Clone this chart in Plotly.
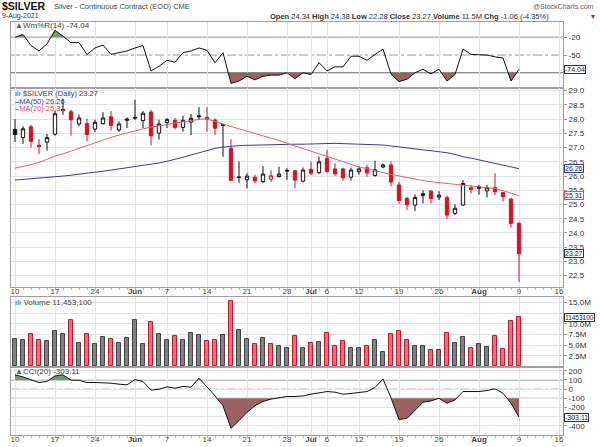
import pandas as pd
import plotly.graph_objects as go
from plotly.subplots import make_subplots

# trading calendar (CME sessions, holidays removed)
HOLIDAYS = ["2021-05-31", "2021-07-05"]
sessions = [d.strftime("%Y-%m-%d") for d in pd.bdate_range("2021-05-10", "2021-08-20")
            if d.strftime("%Y-%m-%d") not in HOLIDAYS]
pos = {d: k for k, d in enumerate(sessions)}

open_ = [27.64, 27.35, 27.73, 27.08, 27.19, 27.47, 28.30, 28.26, 27.83, 27.84,
         27.65, 27.84, 28.08, 27.62, 27.96, 28.03, 27.95, 28.25, 27.51, 27.88,
         27.96, 27.71, 27.90, 28.08, 28.06, 27.97, 27.80, 26.97, 25.97, 25.87,
         25.96, 25.81, 25.89, 25.98, 26.20, 26.19, 25.82, 26.24, 26.12, 26.62,
         26.25, 26.25, 25.96, 26.15, 26.29, 26.02, 26.32, 26.39, 25.69, 25.21,
         24.98, 25.32, 25.47, 25.26, 25.24, 24.69, 24.98, 25.59, 25.62, 25.48,
         25.59, 25.42, 25.19, 24.34]
high = [28.00, 27.75, 27.80, 27.30, 27.48, 28.30, 28.72, 28.33, 28.16, 28.02,
        27.98, 28.24, 28.28, 27.92, 28.06, 28.68, 28.28, 28.33, 27.98, 28.04,
        28.04, 28.12, 28.18, 28.42, 28.42, 28.03, 27.83, 27.29, 26.51, 26.10,
        26.05, 26.35, 26.20, 26.33, 26.27, 26.21, 26.30, 26.51, 26.68, 26.92,
        26.45, 26.30, 26.30, 26.34, 26.40, 26.54, 26.44, 26.52, 25.80, 25.28,
        25.36, 25.50, 25.51, 25.47, 25.31, 25.01, 25.86, 25.69, 25.69, 25.69,
        26.10, 25.45, 25.24, 24.38]
low = [27.20, 27.13, 27.00, 26.77, 26.89, 27.42, 28.15, 27.42, 27.75, 27.22,
       27.54, 27.81, 27.60, 27.54, 27.69, 27.98, 27.69, 27.08, 27.28, 27.69,
       27.64, 27.56, 27.44, 27.98, 27.56, 27.44, 26.68, 25.84, 25.75, 25.57,
       25.75, 25.75, 25.80, 25.95, 25.86, 25.57, 25.78, 26.04, 26.07, 26.10,
       26.00, 25.84, 25.85, 26.05, 25.98, 25.98, 26.28, 25.64, 25.02, 24.81,
       24.77, 25.04, 25.04, 25.16, 24.49, 24.63, 24.96, 25.39, 25.34, 25.25,
       25.33, 25.10, 24.19, 22.28]
close = [27.46, 27.66, 27.22, 27.04, 27.35, 28.19, 28.34, 27.98, 28.04, 27.46,
         27.89, 28.04, 27.78, 27.83, 28.00, 28.06, 28.21, 27.42, 27.83, 27.98,
         27.71, 27.96, 28.03, 28.11, 28.00, 27.68, 27.78, 25.85, 25.95, 26.00,
         25.83, 26.07, 26.01, 26.07, 26.18, 25.86, 26.21, 26.10, 26.50, 26.16,
         26.08, 25.94, 26.21, 26.25, 26.11, 26.22, 26.39, 25.79, 25.14, 24.99,
         25.25, 25.38, 25.21, 25.33, 24.63, 24.87, 25.74, 25.53, 25.57, 25.59,
         25.45, 25.28, 24.33, 23.27]
volume = [6500000, 6100000, 7700000, 6300000, 5900000, 8300000, 7500000, 10800000,
          5600000, 7700000, 5200000, 6800000, 6500000, 5600000, 6700000, 10800000,
          5300000, 10300000, 7500000, 6100000, 7100000, 6300000, 7900000, 7300000,
          6000000, 6100000, 7300000, 15200000, 8600000, 6500000, 5300000, 6700000,
          5300000, 4900000, 4300000, 7100000, 4400000, 5500000, 5700000, 7900000,
          4900000, 6000000, 4400000, 4300000, 4900000, 6300000, 3500000, 7500000,
          8300000, 6100000, 4900000, 4700000, 3900000, 3900000, 7900000, 5600000,
          6800000, 4300000, 5200000, 4500000, 7100000, 4200000, 10600000, 11453100]
ma50 = [25.86, 25.88, 25.90, 25.92, 25.94, 25.97, 26.00, 26.03, 26.06, 26.09,
        26.13, 26.17, 26.21, 26.25, 26.29, 26.33, 26.37, 26.41, 26.46, 26.52,
        26.58, 26.66, 26.74, 26.82, 26.90, 26.97, 27.02, 27.05, 27.07, 27.08,
        27.09, 27.10, 27.10, 27.11, 27.11, 27.12, 27.12, 27.13, 27.14, 27.15,
        27.15, 27.14, 27.13, 27.12, 27.12, 27.11, 27.09, 27.06, 27.02, 26.99,
        26.95, 26.92, 26.89, 26.86, 26.82, 26.76, 26.68, 26.63, 26.57, 26.51,
        26.45, 26.38, 26.32, 26.26]
ma20 = [26.28, 26.33, 26.40, 26.48, 26.60, 26.70, 26.78, 26.88, 26.98, 27.08,
        27.18, 27.28, 27.36, 27.44, 27.52, 27.60, 27.66, 27.72, 27.77, 27.82,
        27.86, 27.90, 27.95, 27.99, 28.01, 27.92, 27.82, 27.74, 27.66, 27.58,
        27.50, 27.42, 27.34, 27.25, 27.15, 27.06, 26.97, 26.88, 26.79, 26.70,
        26.61, 26.52, 26.43, 26.32, 26.26, 26.18, 26.12, 26.06, 26.00, 25.94,
        25.88, 25.84, 25.80, 25.77, 25.75, 25.72, 25.70, 25.67, 25.64, 25.60,
        25.56, 25.49, 25.40, 25.31]
willr = [-20, -15, -34, -43, -31, -8, -18, -29, -29, -49, -38, -33, -49, -46, -43,
         -38, -34, -77, -69, -59, -62, -46, -43, -38, -42, -63, -46, -98, -94, -86,
         -92, -86, -84, -84, -80, -90, -80, -83, -63, -77, -70, -70, -52, -52, -59,
         -49, -40, -82, -95, -91, -80, -74, -82, -74, -94, -83, -40, -49, -49, -50,
         -53, -55, -94, -74.04]
cci = [155, 133, 101, 72, 83, 144, 155, 98, 97, 72, 72, 72, 65, 54, 47, 104,
       83, -11, 0, 25, 11, 29, 22, 119, 25, -72, -180, -425, -342, -252, -180,
       -133, -108, -90, -79, -80, -73, -55, -40, -26, -33, -55, -47, -37, -26,
       18, 110, -95, -329, -318, -226, -142, -128, -99, -153, -117, -26, -26,
       -26, -15, 4, -44, -153, -303.11]

tick_dates = ["2021-05-10", "2021-05-17", "2021-05-24", "2021-06-01", "2021-06-07",
              "2021-06-14", "2021-06-21", "2021-06-28", "2021-07-01", "2021-07-06",
              "2021-07-12", "2021-07-19", "2021-07-26", "2021-08-02", "2021-08-09",
              "2021-08-16"]
tick_text = ["10", "17", "24", "<b>Jun</b>", "7", "14", "21", "28", "<b>Jul</b>", "6",
             "12", "19", "26", "<b>Aug</b>", "9", "16"]
# labels sitting under a value tag are left blank, as on the reference
willr_ticks = [-80, -50, -20]
willr_tick_text = ["", "-50", "-20"]
vol_ticks = [2.5e6, 5e6, 7.5e6, 10e6, 12.5e6, 15e6]
vol_tick_text = ["2.5M", "5.0M", "7.5M", "10.0M", "", "15.0M"]
cci_ticks = [-400, -300, -200, -100, 0, 100, 200]
cci_tick_text = ["-400", "", "-200", "-100", "0", "100", "200"]
header = ["9-Aug-2021", "24.34", "24.38", "22.28", "23.27", "11.5M", "-1.06 (-4.35%)"]

n = len(close)
x = [pos[d] for d in sessions[:n]]
tickvals = [pos[d] for d in tick_dates]
up = [True] + [close[k] >= close[k - 1] for k in range(1, n)]

RED = "#d0122c"
GREEN_FILL = "#6e9c6e"
BROWN_FILL = "#9c6262"
FONT = "Liberation Sans, Arial, sans-serif"


def band(xs, ys, lvl, above):
    """Line clipped at lvl (with crossing points) for the shaded extremes."""
    bx, by = [], []
    for k in range(len(ys)):
        if k and (ys[k - 1] - lvl) * (ys[k] - lvl) < 0:
            t = (lvl - ys[k - 1]) / (ys[k] - ys[k - 1])
            bx.append(xs[k - 1] + t * (xs[k] - xs[k - 1]))
            by.append(lvl)
        bx.append(xs[k])
        by.append(max(ys[k], lvl) if above else min(ys[k], lvl))
    return bx, by


def add_osc(fig, row, vals, hi, lo):
    for lvl, above, color in ((hi, True, GREEN_FILL), (lo, False, BROWN_FILL)):
        bx, by = band(x, vals, lvl, above)
        fig.add_trace(go.Scatter(x=bx, y=[lvl] * len(bx), mode="lines",
                                 line=dict(width=0), hoverinfo="skip"), row=row, col=1)
        fig.add_trace(go.Scatter(x=bx, y=by, mode="lines", line=dict(width=0),
                                 fill="tonexty", fillcolor=color, hoverinfo="skip"),
                      row=row, col=1)
    fig.add_trace(go.Scatter(x=x, y=vals, mode="lines",
                             line=dict(color="#111", width=1)), row=row, col=1)


fig = make_subplots(rows=4, cols=1, shared_xaxes=True, vertical_spacing=0.01)

# 1) Williams %R
add_osc(fig, 1, willr, -20, -80)

# 2) price: moving averages + candles coloured by close vs previous close
fig.add_trace(go.Scatter(x=x, y=ma50, mode="lines", line=dict(color="#3a3aa0", width=1)),
              row=2, col=1)
fig.add_trace(go.Scatter(x=x, y=ma20, mode="lines", line=dict(color="#e8606a", width=1)),
              row=2, col=1)
for is_up, col in ((True, "#111111"), (False, RED)):
    idx = [k for k in range(n) if up[k] == is_up]
    fig.add_trace(go.Candlestick(
        x=[x[k] for k in idx], open=[open_[k] for k in idx], high=[high[k] for k in idx],
        low=[low[k] for k in idx], close=[close[k] for k in idx], whiskerwidth=0,
        increasing=dict(line=dict(color=col, width=1), fillcolor="white"),
        decreasing=dict(line=dict(color=col, width=1), fillcolor=col),
        hoverinfo="skip"), row=2, col=1)

# 3) volume
fig.add_trace(go.Bar(x=x, y=volume, width=0.62,
                     marker=dict(color=["rgba(115,115,115,0.9)" if u else "rgba(212,105,118,0.9)"
                                        for u in up],
                                 line=dict(color=["#444" if u else RED for u in up], width=1))),
              row=3, col=1)

# 4) CCI
add_osc(fig, 4, cci, 100, -100)

for row, (hi, mid, lo) in ((1, (-20, -50, -80)), (4, (100, 0, -100))):
    fig.add_hline(y=hi, line=dict(color="#c4c4c4", width=2), row=row, col=1, layer="below")
    fig.add_hline(y=mid, line=dict(color="#999", width=1, dash="dashdot"), row=row, col=1,
                  layer="below")
    fig.add_hline(y=lo, line=dict(color="#666", width=1), row=row, col=1, layer="below")

axis_common = dict(showline=True, mirror=True, linecolor="#a0a0a0", linewidth=1,
                   gridcolor="#e4e4e4", zeroline=False, automargin=False)
fig.update_xaxes(range=[-0.5, 68.5], tickmode="array", tickvals=tickvals, ticktext=tick_text,
                 showgrid=True, ticks="", showticklabels=False, ticklabelstandoff=-4,
                 tickfont=dict(size=8, color="#444"), rangeslider_visible=False,
                 **axis_common)
for r in (2, 4):
    fig.update_xaxes(showticklabels=True,
                     minor=dict(ticks="outside", ticklen=2, tickcolor="#bbb", dtick=1,
                                tick0=0, showgrid=False),
                     row=r, col=1)
fig.update_yaxes(side="right", tickfont=dict(size=8, color="#333"), ticks="outside",
                 ticklen=3, tickcolor="#999", **axis_common)
fig.update_yaxes(range=[-105, 6], tickvals=willr_ticks, ticktext=willr_tick_text,
                 showgrid=False, row=1, col=1)
fig.update_yaxes(range=[22.103, 29.077], dtick=0.5, tick0=0, tickformat=".1f", row=2, col=1)
fig.update_yaxes(range=[0, 16.24e6], tickvals=vol_ticks, ticktext=vol_tick_text, row=3, col=1)
fig.update_yaxes(range=[-498, 235], tickvals=cci_ticks, ticktext=cci_tick_text, row=4, col=1)

# panel geometry (pixels: plot area spans y 22..435)
fig.update_layout(
    yaxis=dict(domain=[0.8414, 1.0]),
    yaxis2=dict(domain=[0.3584, 0.839]),
    yaxis3=dict(domain=[0.1659, 0.3341]),
    yaxis4=dict(domain=[0.0, 0.1634]),
)


def px(xp, yp):
    return (xp - 11) / 552, (435 - yp) / 413


ann = []


def text(xp, yp, s, size=8, color="#333", anchor="left"):
    ax, ay = px(xp, yp)
    ann.append(dict(x=ax, y=ay, xref="paper", yref="paper", text=s, showarrow=False,
                    xanchor=anchor, yanchor="middle",
                    font=dict(size=size, color=color, family=FONT)))


text(0, 6, "<b>$SILVER</b>", size=10.5, color="#111")
text(52, 6.5, "Silver - Continuous Contract (EOD) CME", size=7.5, color="#444")
text(596, 6.5, "@StockCharts.com", size=7, color="#666", anchor="right")
text(0, 16, header[0], size=7, color="#333")
text(268, 16, f"<b>Open</b> {header[1]} <b>High</b> {header[2]} <b>Low</b> {header[3]} "
              f"<b>Close</b> {header[4]} <b>Volume</b> {header[5]} <b>Chg</b> {header[6]}",
     size=7.5, color="#333")
text(597, 16, "▾", size=8, color=RED, anchor="right")
text(13, 26, f"<span style='color:#4a6a4a'>▲</span>Wm%R(14) {willr[-1]:.2f}", size=8, color="#444")
text(13, 93.5, f"ılı $SILVER (Daily) {close[-1]:.2f}", size=7.5, color="#444")
text(13, 101, f"<b>–</b>MA(50) {ma50[-1]:.2f}", size=7.5, color="#3a3aa0")
text(13, 108.5, f"<b>–</b>MA(20) {ma20[-1]:.2f}", size=7.5, color="#e0505a")
text(13, 302, f"ılı Volume {volume[-1]:,}", size=8, color="#444")
text(13, 371, f"<span style='color:#4a6a4a'>▲</span>CCI(20) {cci[-1]:.2f}", size=8, color="#444")

# value tags on the right axis
for yref, val, label, bc in (("y", willr[-1], f"{willr[-1]:.2f}", "#333"),
                             ("y2", ma50[-1], f"{ma50[-1]:.2f}", "#3a3aa0"),
                             ("y2", ma20[-1], f"{ma20[-1]:.2f}", "#e0505a"),
                             ("y2", close[-1], f"{close[-1]:.2f}", "#333"),
                             ("y3", volume[-1], f"{volume[-1]}", "#333"),
                             ("y4", cci[-1], f"{cci[-1]:.2f}", "#333")):
    ann.append(dict(x=1, xref="paper", y=val, yref=yref, text=label, showarrow=False,
                    xanchor="left", yanchor="middle", xshift=1,
                    font=dict(size=6.5 if len(label) > 7 else 7, color="#222", family=FONT),
                    bgcolor="white", bordercolor=bc, borderwidth=1, borderpad=0))

fig.update_layout(
    width=600, height=447, annotations=ann, showlegend=False,
    margin=dict(l=11, r=37, t=22, b=12),
    paper_bgcolor="white", plot_bgcolor="white",
    font=dict(family=FONT, size=8, color="#333"),
    boxmode="overlay", boxgap=0.4, bargap=0,
)

# the page's default body margin would push the 600x447 figure off the window
fig.write_html("out.html", config={"displayModeBar": False},
               post_script="document.body.style.margin='0';")
